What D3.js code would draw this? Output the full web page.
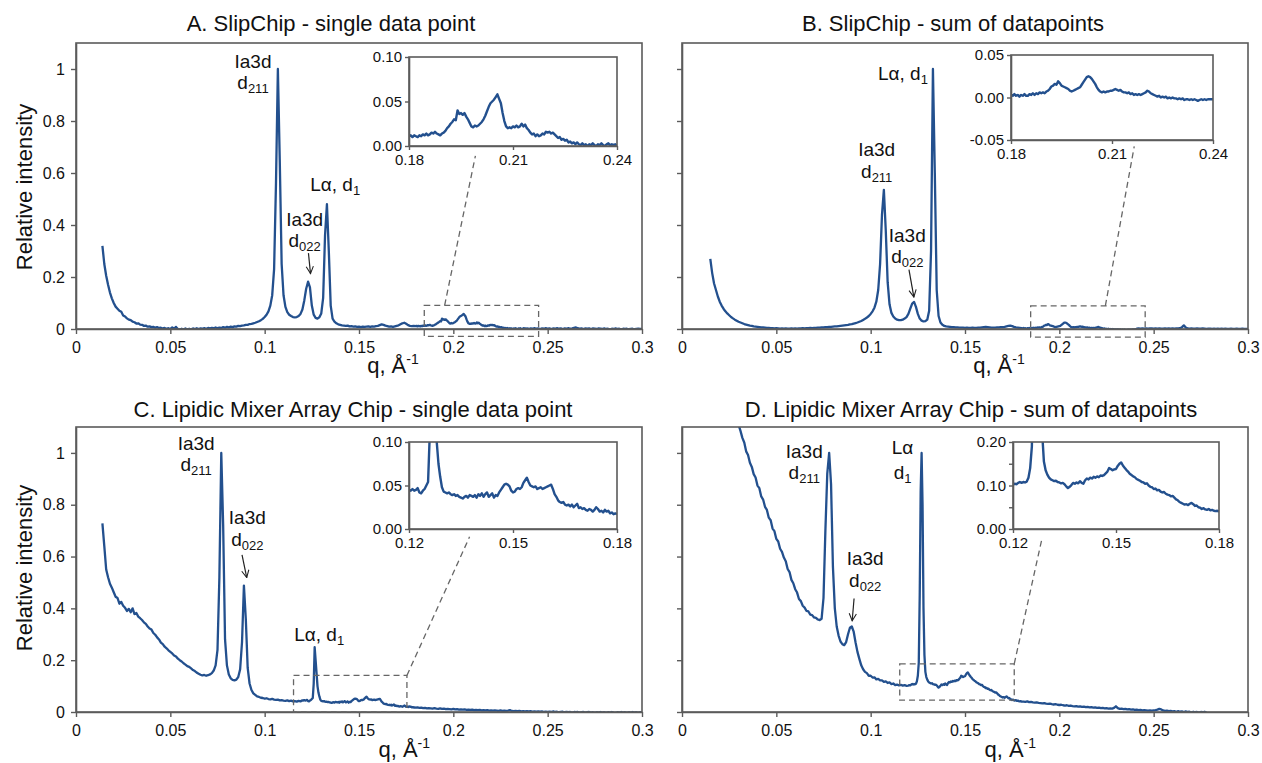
<!DOCTYPE html>
<html>
<head>
<meta charset="utf-8">
<script src="https://cdn.jsdelivr.net/npm/d3@7"></script>
<style>
  body { margin: 0; background: #ffffff; }
  svg { display: block; }
</style>
</head>
<body>
<svg id="chart" width="1262" height="763"></svg>
<script>
// ---- Scattering profiles, relative intensity vs q (1/Å) ----
// Each profile: coarse samples (0.001 step) before and after the zoom window,
// fine samples (0.0005 step) inside the window that the inset enlarges.
const mainStep = 0.001;
const zoomStep = 0.0005;

// A. SlipChip - single data point
const slipSingleStart = 0.014;
const slipSinglePre = [
  0.320,0.250,0.205,0.170,0.140,0.118,0.100,0.086,0.078,0.070,
  0.066,0.052,0.048,0.041,0.036,0.034,0.028,0.026,0.021,0.022,
  0.017,0.016,0.012,0.013,0.009,0.010,0.007,0.008,0.005,0.007,
  0.004,0.005,0.002,0.004,0.001,0.003,0.000,0.006,0.001,0.008,
  0.000,-0.002,0.001,-0.001,0.002,-0.002,0.001,-0.001,0.002,0.000,
  0.003,0.000,0.002,0.001,0.003,0.001,0.004,0.002,0.004,0.003,
  0.006,0.003,0.005,0.004,0.007,0.005,0.008,0.006,0.009,0.007,
  0.010,0.009,0.012,0.011,0.013,0.014,0.016,0.016,0.019,0.020,
  0.022,0.024,0.027,0.030,0.034,0.039,0.046,0.055,0.068,0.090,
  0.130,0.230,0.560,1.000,0.650,0.250,0.130,0.085,0.065,0.055,
  0.050,0.046,0.045,0.046,0.050,0.058,0.075,0.110,0.155,0.182,
  0.160,0.090,0.055,0.043,0.040,0.045,0.060,0.120,0.360,0.480,
  0.300,0.090,0.040,0.028,0.022,0.018,0.016,0.014,0.013,0.012,
  0.013,0.010,0.011,0.009,0.010,0.008,0.009,0.007,0.009,0.008,
  0.009,0.010,0.008,0.010,0.009,0.011,0.012,0.015,0.018,0.016,
  0.013,0.011,0.009,0.010,0.008,0.010,0.012,0.014,0.018,0.022,
  0.024,0.020,0.015,0.012,0.011,0.012
];
const slipSingleZoomStart = 0.180;
const slipSingleZoom = [
  0.011,0.012,0.010,0.012,0.011,0.010,0.012,0.011,0.013,0.012,
  0.014,0.012,0.013,0.015,0.014,0.016,0.014,0.013,0.012,0.014,
  0.015,0.017,0.020,0.022,0.025,0.027,0.030,0.029,0.040,0.036,
  0.037,0.035,0.037,0.033,0.030,0.026,0.022,0.021,0.023,0.022,
  0.023,0.025,0.027,0.030,0.034,0.039,0.044,0.048,0.050,0.052,
  0.055,0.058,0.053,0.048,0.037,0.028,0.022,0.020,0.021,0.020,
  0.022,0.021,0.023,0.021,0.022,0.025,0.022,0.024,0.020,0.018,
  0.015,0.013,0.014,0.011,0.013,0.011,0.012,0.014,0.013,0.016,
  0.015,0.016,0.014,0.015,0.013,0.011,0.009,0.010,0.007,0.008,
  0.006,0.007,0.004,0.005,0.003,0.004,0.002,0.004,0.002,0.001,
  0.003,0.001,0.002,0.000,0.002,0.001,0.003,0.001,0.000,0.002,
  0.001,0.003,0.001,0.000,0.002,0.003,0.001,0.002,0.001,0.002,
  0.000
];
const slipSinglePost = [
  0.002,0.001,0.003,0.001,0.002,0.000,0.002,0.001,0.003,0.001,
  0.002,0.000,0.002,0.001,0.003,0.001,0.002,0.000,0.002,0.001,
  0.003,0.001,0.002,0.004,0.006,0.003,0.001,0.002,0.000,0.002,
  0.001,0.002,0.000,0.002,0.001,0.000,0.002,0.001,0.000,0.002,
  0.000,0.001,-0.001,0.001,0.000,0.002,0.000,0.001,-0.001,0.001,
  0.000,0.001,-0.001,0.000,0.001,-0.001,0.000,0.001,0.000,0.000
];

// B. SlipChip - sum of datapoints
const slipSumStart = 0.015;
const slipSumPre = [
  0.270,0.215,0.175,0.150,0.125,0.105,0.090,0.078,0.068,0.060,
  0.053,0.046,0.041,0.036,0.032,0.028,0.025,0.022,0.019,0.017,
  0.015,0.013,0.012,0.010,0.009,0.008,0.007,0.006,0.006,0.005,
  0.004,0.004,0.003,0.003,0.002,0.003,0.002,0.001,0.002,0.001,
  0.002,0.001,0.001,0.002,0.001,0.002,0.001,0.002,0.002,0.003,
  0.002,0.003,0.003,0.004,0.003,0.004,0.004,0.005,0.005,0.006,
  0.006,0.007,0.007,0.008,0.008,0.009,0.010,0.010,0.011,0.012,
  0.013,0.014,0.015,0.016,0.018,0.019,0.021,0.023,0.025,0.028,
  0.031,0.035,0.039,0.044,0.050,0.058,0.068,0.082,0.105,0.150,
  0.250,0.440,0.535,0.380,0.180,0.095,0.062,0.048,0.040,0.036,
  0.034,0.034,0.036,0.040,0.046,0.058,0.078,0.098,0.104,0.085,
  0.058,0.040,0.032,0.029,0.030,0.036,0.070,0.300,1.000,0.600,
  0.150,0.050,0.025,0.016,0.012,0.010,0.009,0.008,0.007,0.007,
  0.006,0.006,0.005,0.005,0.005,0.004,0.005,0.004,0.004,0.005,
  0.004,0.004,0.005,0.005,0.006,0.007,0.008,0.007,0.006,0.005,
  0.005,0.005,0.006,0.006,0.007,0.007,0.008,0.010,0.012,0.013,
  0.011,0.008,0.006,0.005,0.004
];
const slipSumZoomStart = 0.180;
const slipSumZoom = [
  0.003,0.002,0.004,0.002,0.003,0.001,0.003,0.002,0.004,0.002,
  0.002,0.004,0.003,0.005,0.003,0.005,0.004,0.006,0.005,0.006,
  0.005,0.007,0.008,0.010,0.013,0.014,0.016,0.015,0.019,0.017,
  0.014,0.013,0.012,0.011,0.010,0.008,0.007,0.008,0.009,0.010,
  0.011,0.012,0.015,0.018,0.021,0.024,0.025,0.024,0.022,0.019,
  0.016,0.012,0.009,0.007,0.006,0.007,0.006,0.007,0.007,0.008,
  0.008,0.009,0.010,0.009,0.008,0.009,0.007,0.006,0.006,0.005,
  0.006,0.004,0.005,0.003,0.004,0.003,0.004,0.003,0.004,0.005,
  0.006,0.008,0.007,0.005,0.004,0.003,0.002,0.001,0.002,0.000,
  0.001,0.000,0.001,-0.001,0.000,-0.001,0.000,-0.001,-0.001,-0.002,
  -0.001,-0.002,-0.001,-0.003,-0.002,-0.002,-0.003,-0.002,-0.003,-0.002,
  -0.003,-0.004,-0.003,-0.002,-0.003,-0.002,-0.003,-0.002,-0.002,-0.002,
  -0.002
];
const slipSumPost = [
  0.001,0.002,0.001,0.002,0.001,0.002,0.001,0.002,0.002,0.001,
  0.002,0.001,0.002,0.001,0.001,0.002,0.001,0.002,0.001,0.002,
  0.001,0.002,0.002,0.003,0.007,0.014,0.006,0.002,0.001,0.002,
  0.001,0.001,0.002,0.001,0.001,0.002,0.001,0.000,0.001,0.001,
  0.000,0.001,0.000,0.001,0.000,0.001,0.000,0.001,0.000,0.000,
  0.001,0.000,0.000,0.001,0.000,0.000,0.001,0.000,0.000,0.000
];

// C. Lipidic Mixer Array Chip - single data point
const lmaSingleStart = 0.014;
const lmaSinglePre = [
  0.728,0.640,0.550,0.520,0.495,0.480,0.462,0.445,0.440,0.418,
  0.425,0.410,0.402,0.390,0.398,0.385,0.400,0.378,0.382,0.368,
  0.362,0.355,0.346,0.340,0.330,0.322,0.318,0.305,0.298,0.288,
  0.280,0.268,0.262,0.252,0.246,0.238,0.232,0.226,0.218,0.214,
  0.206,0.200,0.195,0.188,0.183,0.177,0.174,0.168,0.162,0.158,
  0.152,0.148,0.144,0.141,0.143,0.140,0.142,0.145,0.150,0.160,
  0.180,0.240,0.520,1.000,0.720,0.280,0.180,0.145,0.130,0.124,
  0.122,0.125,0.135,0.165,0.270,0.488,0.360,0.170,0.110,0.085,
  0.072,0.066,0.060,0.058,0.055,0.054,0.052,0.053,0.050,0.049,
  0.051,0.048,0.047,0.048,0.045,0.046,0.044,0.043,0.045,0.042,
  0.044,0.041,0.042,0.040,0.043,0.041
];
const lmaSingleZoomStart = 0.120;
const lmaSingleZoom = [
  0.045,0.044,0.046,0.044,0.045,0.047,0.042,0.041,0.044,0.046,
  0.050,0.054,0.110,0.250,0.200,0.150,0.100,0.075,0.060,0.048,
  0.043,0.042,0.041,0.042,0.040,0.039,0.040,0.038,0.039,0.037,
  0.036,0.035,0.037,0.038,0.036,0.039,0.038,0.037,0.039,0.036,
  0.040,0.038,0.041,0.037,0.040,0.042,0.037,0.039,0.041,0.036,
  0.039,0.038,0.042,0.045,0.048,0.051,0.052,0.051,0.049,0.044,
  0.042,0.043,0.046,0.047,0.046,0.048,0.053,0.056,0.059,0.054,
  0.050,0.049,0.048,0.049,0.046,0.047,0.048,0.046,0.047,0.048,
  0.049,0.050,0.051,0.046,0.040,0.037,0.033,0.031,0.030,0.031,
  0.028,0.027,0.028,0.026,0.028,0.025,0.027,0.029,0.024,0.025,
  0.023,0.024,0.022,0.021,0.023,0.022,0.020,0.022,0.025,0.023,
  0.020,0.021,0.019,0.022,0.020,0.021,0.018,0.019,0.017,0.018,
  0.017
];
const lmaSinglePost = [
  0.018,0.016,0.017,0.015,0.016,0.014,0.015,0.014,0.013,0.015,
  0.013,0.012,0.014,0.012,0.013,0.011,0.012,0.011,0.010,0.012,
  0.010,0.011,0.009,0.010,0.009,0.010,0.008,0.009,0.008,0.009,
  0.007,0.008,0.007,0.008,0.006,0.007,0.006,0.007,0.005,0.006,
  0.005,0.006,0.005,0.004,0.006,0.004,0.005,0.004,0.005,0.007,
  0.004,0.003,0.004,0.003,0.004,0.002,0.003,0.002,0.003,0.002,
  0.003,0.001,0.002,0.001,0.002,0.001,0.002,0.000,0.001,0.000,
  0.001,0.000,0.002,0.000,0.001,-0.001,0.000,0.001,-0.001,0.000,
  -0.001,0.000,-0.002,0.000,-0.001,0.000,-0.002,-0.001,0.000,-0.002,
  -0.001,0.000,-0.002,-0.001,-0.003,-0.001,-0.002,0.000,-0.002,-0.001,
  -0.003,-0.001,-0.002,0.000,-0.002,-0.003,-0.001,-0.002,0.000,-0.002,
  -0.001,-0.003,-0.001,-0.002,0.000,-0.002,-0.001,-0.003,-0.001,-0.002
];

// D. Lipidic Mixer Array Chip - sum of datapoints
const lmaSumStart = 0.028;
const lmaSumPre = [
  1.160,1.135,1.108,1.085,1.058,1.040,1.006,0.992,0.962,0.946,
  0.918,0.905,0.874,0.864,0.832,0.820,0.792,0.780,0.750,0.740,
  0.708,0.698,0.668,0.658,0.630,0.618,0.596,0.582,0.552,0.540,
  0.510,0.497,0.474,0.461,0.436,0.428,0.410,0.403,0.390,0.388,
  0.376,0.374,0.365,0.363,0.357,0.355,0.360,0.440,0.700,0.920,
  1.000,0.880,0.560,0.400,0.330,0.295,0.272,0.262,0.258,0.270,
  0.300,0.325,0.330,0.310,0.268,0.232,0.205,0.180,0.165,0.155,
  0.150,0.140,0.140,0.133,0.134,0.126,0.128,0.122,0.122,0.116,
  0.118,0.112,0.114,0.108,0.110,0.104,0.106,0.103,0.105,0.102,
  0.104,0.101
];
const lmaSumZoomStart = 0.120;
const lmaSumZoom = [
  0.102,0.104,0.103,0.106,0.108,0.106,0.108,0.107,0.109,0.118,
  0.140,0.190,0.450,0.850,1.000,0.800,0.400,0.220,0.155,0.135,
  0.125,0.118,0.114,0.112,0.110,0.111,0.108,0.107,0.105,0.106,
  0.103,0.098,0.094,0.097,0.101,0.106,0.104,0.107,0.105,0.110,
  0.106,0.104,0.112,0.116,0.114,0.118,0.116,0.120,0.118,0.121,
  0.119,0.123,0.122,0.124,0.128,0.132,0.140,0.138,0.135,0.137,
  0.138,0.145,0.150,0.153,0.146,0.141,0.136,0.132,0.127,0.124,
  0.121,0.119,0.115,0.113,0.111,0.108,0.107,0.104,0.105,0.100,
  0.097,0.096,0.092,0.093,0.089,0.090,0.086,0.084,0.085,0.081,
  0.079,0.078,0.075,0.076,0.072,0.068,0.066,0.062,0.060,0.058,
  0.056,0.057,0.055,0.058,0.060,0.057,0.053,0.054,0.050,0.049,
  0.046,0.048,0.045,0.044,0.046,0.043,0.044,0.042,0.041,0.042,
  0.040
];
const lmaSumPost = [
  0.040,0.039,0.041,0.038,0.039,0.037,0.036,0.037,0.035,0.034,
  0.033,0.034,0.032,0.031,0.032,0.030,0.029,0.030,0.028,0.027,
  0.028,0.026,0.025,0.026,0.024,0.025,0.023,0.022,0.023,0.021,
  0.022,0.020,0.021,0.019,0.020,0.018,0.019,0.017,0.018,0.016,
  0.017,0.015,0.016,0.014,0.015,0.013,0.014,0.013,0.016,0.022,
  0.015,0.012,0.013,0.011,0.012,0.010,0.011,0.009,0.010,0.008,
  0.009,0.007,0.008,0.006,0.007,0.006,0.005,0.006,0.005,0.006,
  0.007,0.009,0.012,0.010,0.006,0.004,0.005,0.003,0.004,0.002,
  0.003,0.001,0.003,0.001,0.002,0.000,0.002,0.000,0.001,-0.001,
  0.001,-0.001,0.000,-0.002,0.000,-0.001,0.001,-0.001
];

// Axis ticks and their labels
const mainXTicks = [0, 0.05, 0.1, 0.15, 0.2, 0.25, 0.3];
const mainXTickText = ["0", "0.05", "0.1", "0.15", "0.2", "0.25", "0.3"];
const mainYTicks = [0, 0.2, 0.4, 0.6, 0.8, 1];
const mainYTickText = ["0", "0.2", "0.4", "0.6", "0.8", "1"];
const slipInsetXTicks = [0.18, 0.21, 0.24];
const slipInsetXTickText = ["0.18", "0.21", "0.24"];
const lmaInsetXTicks = [0.12, 0.15, 0.18];
const lmaInsetXTickText = ["0.12", "0.15", "0.18"];
const insetYTicksA = [0, 0.05, 0.1];
const insetYTickTextA = ["0.00", "0.05", "0.10"];
const insetYTicksB = [-0.05, 0, 0.05];
const insetYTickTextB = ["-0.05", "0.00", "0.05"];
const insetYTicksD = [0, 0.05, 0.1, 0.15, 0.2];
const insetYTickTextD = ["0.00", "", "0.10", "", "0.20"];

// ---- helpers ----
function buildSeries(start, pre, zoomStart, zoom, post) {
  const pts = [];
  pre.forEach((v, i) => pts.push([+(start + i * mainStep).toFixed(4), v]));
  zoom.forEach((v, i) => pts.push([+(zoomStart + i * zoomStep).toFixed(4), v]));
  const zEnd = zoomStart + (zoom.length - 1) * zoomStep;
  post.forEach((v, i) => pts.push([+(zEnd + (i + 1) * mainStep).toFixed(4), v]));
  return pts;
}

const FONT = "'Liberation Sans', Arial, Helvetica, sans-serif";
const LINE = "#23508e";
const FRAME = "#5b5b5b";
const INK = "#111111";
const NOTE_SIZE = 19;
const SUB_SIZE = 13;

// Peak labels: a block is centred at q, its first baseline sits at v,
// following lines step down by gap pixels; a line is a list of
// [text, isSubscript] pieces.
const panels = [
  {
    key: "A",
    title: "A. SlipChip - single data point", titleX: 331, titleY: 31,
    box: { x: 76, y: 43, w: 566, h: 286 },
    yLabelPos: [24, 187], yTickText: true,
    xLabel: { q: 0.168, y: 373 },
    series: buildSeries(slipSingleStart, slipSinglePre, slipSingleZoomStart, slipSingleZoom, slipSinglePost),
    inset: { x: 409, y: 57, w: 208, h: 89, xd: [0.18, 0.24], yd: [0, 0.1],
             xt: slipInsetXTicks, xtt: slipInsetXTickText, yt: insetYTicksA, ytt: insetYTickTextA },
    rect: { q: [0.1846, 0.2452], v: [-0.028, 0.091] },
    link: [[0.1954, 0.091], [0.2117, 0.666]],
    notes: [
      { q: 0.0938, v: 1.004, gap: 21.5, lines: [[["Ia3d"]], [["d"], ["211", 1]]] },
      { q: 0.1374, v: 0.532, gap: 0, lines: [[["L\u03b1, d"], ["1", 1]]] },
      { q: 0.1212, v: 0.397, gap: 21.5, lines: [[["Ia3d"]], [["d"], ["022", 1]]] }
    ],
    arrow: [[0.1232, 0.292], [0.1243, 0.213]]
  },
  {
    key: "B",
    title: "B. SlipChip - sum of datapoints", titleX: 953, titleY: 31,
    box: { x: 682, y: 43, w: 566, h: 286 },
    yLabelPos: null, yTickText: false,
    xLabel: { q: 0.168, y: 373 },
    series: buildSeries(slipSumStart, slipSumPre, slipSumZoomStart, slipSumZoom, slipSumPost),
    inset: { x: 1011, y: 55, w: 202, h: 85, xd: [0.18, 0.24], yd: [-0.05, 0.05],
             xt: slipInsetXTicks, xtt: slipInsetXTickText, yt: insetYTicksB, ytt: insetYTickTextB },
    rect: { q: [0.1848, 0.2455], v: [-0.031, 0.089] },
    link: [[0.2244, 0.089], [0.2397, 0.702]],
    notes: [
      { q: 0.1171, v: 0.959, gap: 0, lines: [[["L\u03b1, d"], ["1", 1]]] },
      { q: 0.1032, v: 0.664, gap: 21.5, lines: [[["Ia3d"]], [["d"], ["211", 1]]] },
      { q: 0.1194, v: 0.336, gap: 21.5, lines: [[["Ia3d"]], [["d"], ["022", 1]]] }
    ],
    arrow: [[0.1203, 0.228], [0.1229, 0.123]]
  },
  {
    key: "C",
    title: "C. Lipidic Mixer Array Chip - single data point", titleX: 353, titleY: 417,
    box: { x: 76, y: 427, w: 566, h: 285 },
    yLabelPos: [24, 568], yTickText: true,
    xLabel: { q: 0.174, y: 757 },
    series: buildSeries(lmaSingleStart, lmaSinglePre, lmaSingleZoomStart, lmaSingleZoom, lmaSinglePost),
    inset: { x: 409, y: 442, w: 208, h: 87, xd: [0.12, 0.18], yd: [0, 0.1],
             xt: lmaInsetXTicks, xtt: lmaInsetXTickText, yt: insetYTicksA, ytt: insetYTickTextA },
    rect: { q: [0.1153, 0.1754], v: [0, 0.141] },
    link: [[0.1754, 0.141], [0.2086, 0.676]],
    notes: [
      { q: 0.0637, v: 1.013, gap: 21.5, lines: [[["Ia3d"]], [["d"], ["211", 1]]] },
      { q: 0.0908, v: 0.725, gap: 21.5, lines: [[["Ia3d"]], [["d"], ["022", 1]]] },
      { q: 0.1289, v: 0.275, gap: 0, lines: [[["L\u03b1, d"], ["1", 1]]] }
    ],
    arrow: [[0.0880, 0.606], [0.0905, 0.519]]
  },
  {
    key: "D",
    title: "D. Lipidic Mixer Array Chip - sum of datapoints", titleX: 971, titleY: 417,
    box: { x: 682, y: 427, w: 566, h: 285 },
    yLabelPos: null, yTickText: false,
    xLabel: { q: 0.174, y: 757 },
    series: buildSeries(lmaSumStart, lmaSumPre, lmaSumZoomStart, lmaSumZoom, lmaSumPost),
    inset: { x: 1013, y: 442, w: 206, h: 87, xd: [0.12, 0.18], yd: [0, 0.2],
             xt: lmaInsetXTicks, xtt: lmaInsetXTickText, yt: insetYTicksD, ytt: insetYTickTextD },
    rect: { q: [0.1154, 0.1761], v: [0.046, 0.186] },
    link: [[0.1761, 0.186], [0.1910, 0.676]],
    notes: [
      { q: 0.0648, v: 0.981, gap: 21.5, lines: [[["Ia3d"]], [["d"], ["211", 1]]] },
      { q: 0.1169, v: 0.995, gap: 24.5, lines: [[["L\u03b1"]], [["d"], ["1", 1]]] },
      { q: 0.0971, v: 0.567, gap: 21.5, lines: [[["Ia3d"]], [["d"], ["022", 1]]] }
    ],
    arrow: [[0.0912, 0.438], [0.0902, 0.352]]
  }
];

// ---- drawing ----
const svg = d3.select("#chart").style("font-family", FONT);
const defs = svg.append("defs");
defs.append("marker")
  .attr("id", "arrowhead")
  .attr("viewBox", "0 0 10 10")
  .attr("refX", 9).attr("refY", 5)
  .attr("markerWidth", 9).attr("markerHeight", 9)
  .attr("markerUnits", "userSpaceOnUse")
  .attr("orient", "auto")
  .append("path")
  .attr("d", "M1,1 L9,5 L1,9")
  .attr("fill", "none").attr("stroke", "#222").attr("stroke-width", 1.2);

function styleAxis(g, fontSize) {
  g.attr("font-family", FONT).attr("font-size", fontSize);
  g.select(".domain").attr("stroke", FRAME).attr("stroke-width", 1.6);
  g.selectAll(".tick line").attr("stroke", FRAME).attr("stroke-width", 1.4);
  g.selectAll(".tick text").attr("fill", INK);
}

panels.forEach(p => {
  const b = p.box;
  const x = d3.scaleLinear().domain([0, 0.3]).range([b.x, b.x + b.w]);
  const y = d3.scaleLinear().domain([0, 1.1]).range([b.y + b.h, b.y]);
  const g = svg.append("g").attr("class", "panel-" + p.key);

  // title
  g.append("text").attr("x", p.titleX).attr("y", p.titleY)
    .attr("text-anchor", "middle").attr("font-size", 22).attr("fill", INK)
    .text(p.title);

  // clip for the main profile
  defs.append("clipPath").attr("id", "clip-" + p.key)
    .append("rect").attr("x", b.x).attr("y", b.y).attr("width", b.w).attr("height", b.h);

  // profile
  const line = d3.line().x(d => x(d[0])).y(d => y(d[1]));
  g.append("path").datum(p.series)
    .attr("clip-path", `url(#clip-${p.key})`)
    .attr("d", line)
    .attr("fill", "none").attr("stroke", LINE).attr("stroke-width", 2.3)
    .attr("stroke-linejoin", "round");

  // frame
  g.append("rect").attr("x", b.x).attr("y", b.y).attr("width", b.w).attr("height", b.h)
    .attr("fill", "none").attr("stroke", FRAME).attr("stroke-width", 1.6);

  // axes
  const xa = g.append("g").attr("transform", `translate(0,${b.y + b.h})`)
    .call(d3.axisBottom(x).tickValues(mainXTicks)
      .tickFormat((d, i) => mainXTickText[i]).tickSize(5).tickSizeOuter(0).tickPadding(8));
  styleAxis(xa, 16);
  const ya = g.append("g").attr("transform", `translate(${b.x},0)`)
    .call(d3.axisLeft(y).tickValues(mainYTicks)
      .tickFormat((d, i) => p.yTickText ? mainYTickText[i] : "").tickSize(5).tickSizeOuter(0).tickPadding(6));
  styleAxis(ya, 16);

  // axis titles
  const xl = g.append("text").attr("x", x(p.xLabel.q)).attr("y", p.xLabel.y)
    .attr("text-anchor", "middle").attr("font-size", 22).attr("fill", INK);
  xl.append("tspan").text("q, \u00c5");
  xl.append("tspan").attr("font-size", 14).attr("dy", -9).text("-1");
  if (p.yLabelPos) {
    g.append("text")
      .attr("transform", `translate(${p.yLabelPos[0]},${p.yLabelPos[1]}) rotate(-90)`)
      .attr("text-anchor", "middle").attr("dominant-baseline", "central")
      .attr("font-size", 22).attr("fill", INK).text("Relative intensity");
  }

  // zoom window outline and its link to the inset
  g.append("rect")
    .attr("x", x(p.rect.q[0])).attr("y", y(p.rect.v[1]))
    .attr("width", x(p.rect.q[1]) - x(p.rect.q[0]))
    .attr("height", y(p.rect.v[0]) - y(p.rect.v[1]))
    .attr("fill", "none").attr("stroke", "#666").attr("stroke-width", 1.3)
    .attr("stroke-dasharray", "6,4");
  g.append("line")
    .attr("x1", x(p.link[0][0])).attr("y1", y(p.link[0][1]))
    .attr("x2", x(p.link[1][0])).attr("y2", y(p.link[1][1]))
    .attr("stroke", "#666").attr("stroke-width", 1.3).attr("stroke-dasharray", "6,4");

  // peak labels
  p.notes.forEach(n => {
    const t = g.append("text").attr("text-anchor", "middle")
      .attr("font-size", NOTE_SIZE).attr("fill", INK);
    n.lines.forEach((ln, li) => {
      ln.forEach((part, k) => {
        const s = t.append("tspan").text(part[0]);
        if (k === 0) s.attr("x", x(n.q)).attr("y", y(n.v) + li * n.gap);
        if (part[1]) s.attr("font-size", SUB_SIZE).attr("dy", 4);
      });
    });
  });
  g.append("line")
    .attr("x1", x(p.arrow[0][0])).attr("y1", y(p.arrow[0][1]))
    .attr("x2", x(p.arrow[1][0])).attr("y2", y(p.arrow[1][1]))
    .attr("stroke", "#222").attr("stroke-width", 1.2)
    .attr("marker-end", "url(#arrowhead)");

  // inset
  const ins = p.inset;
  const ix = d3.scaleLinear().domain(ins.xd).range([ins.x, ins.x + ins.w]);
  const iy = d3.scaleLinear().domain(ins.yd).range([ins.y + ins.h, ins.y]);
  const ig = g.append("g").attr("class", "inset");
  ig.append("rect").attr("x", ins.x).attr("y", ins.y).attr("width", ins.w).attr("height", ins.h)
    .attr("fill", "#fff");
  defs.append("clipPath").attr("id", "iclip-" + p.key)
    .append("rect").attr("x", ins.x).attr("y", ins.y).attr("width", ins.w).attr("height", ins.h);
  const windowPts = p.series.filter(d => d[0] >= ins.xd[0] - 1e-6 && d[0] <= ins.xd[1] + 1e-6);
  const iline = d3.line().x(d => ix(d[0])).y(d => iy(d[1]));
  ig.append("path").datum(windowPts)
    .attr("clip-path", `url(#iclip-${p.key})`)
    .attr("d", iline)
    .attr("fill", "none").attr("stroke", LINE).attr("stroke-width", 2.4)
    .attr("stroke-linejoin", "round");
  ig.append("rect").attr("x", ins.x).attr("y", ins.y).attr("width", ins.w).attr("height", ins.h)
    .attr("fill", "none").attr("stroke", FRAME).attr("stroke-width", 1.6);
  const ixa = ig.append("g").attr("transform", `translate(0,${ins.y + ins.h})`)
    .call(d3.axisBottom(ix).tickValues(ins.xt)
      .tickFormat((d, i) => ins.xtt[i]).tickSize(4).tickSizeOuter(0).tickPadding(4));
  styleAxis(ixa, 15);
  const iya = ig.append("g").attr("transform", `translate(${ins.x},0)`)
    .call(d3.axisLeft(iy).tickValues(ins.yt)
      .tickFormat((d, i) => ins.ytt[i]).tickSize(4).tickSizeOuter(0).tickPadding(3));
  styleAxis(iya, 15);
});
</script>
</body>
</html>
